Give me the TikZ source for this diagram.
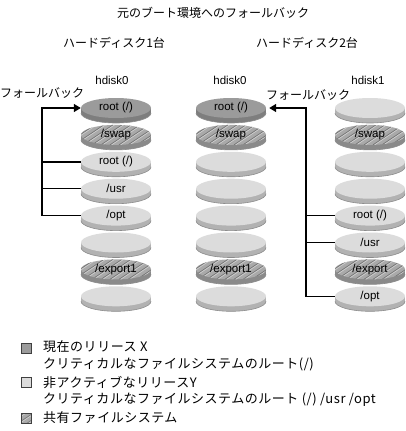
\documentclass[tikz,border=0pt]{standalone}
\usepackage{fontspec}
\setmainfont{Liberation Sans}
\newfontfamily\cjk{Noto Sans CJK JP}
\newfontfamily\cjkleg[LetterSpace=4]{Noto Sans CJK JP}
\usetikzlibrary{shapes.geometric,arrows.meta}
\definecolor{curface}{HTML}{9B9B9B}
\definecolor{curside}{HTML}{7E7E7E}
\definecolor{inaface}{HTML}{DCDCDC}
\definecolor{inaside}{HTML}{B2B2B2}
\definecolor{shrface}{HTML}{A9A9A9}
\definecolor{shrside}{HTML}{8A8A8A}
\definecolor{hatchdark}{HTML}{777777}
\definecolor{hatchlight}{HTML}{CFCFCF}
\definecolor{rim}{HTML}{8C8C8C}
\tikzset{
  hatching/.style={path picture={
    \foreach \i in {-90,-81,...,90} {
      \draw[hatchdark, line width=0.9pt] ([xshift=\i pt]path picture bounding box.center) ++(-15pt,-10pt) -- ++(30pt,20pt);
      \draw[hatchlight, line width=0.7pt] ([xshift=\i pt+1.6pt]path picture bounding box.center) ++(-15pt,-10pt) -- ++(30pt,20pt);
    }}},
  diskbase/.style={ellipse, minimum width=70pt, minimum height=20pt, inner sep=0pt,
    font=\fontsize{11.5}{13}\selectfont},
  curdisk/.style={diskbase, fill=curface},
  inadisk/.style={diskbase, fill=inaface},
  shrdisk/.style={diskbase, fill=shrface, hatching},
  jp/.style={font=\cjk\fontsize{12}{14}\selectfont, inner sep=0pt},
  jpleg/.style={font=\cjkleg\fontsize{13}{15}\selectfont, inner sep=0pt, anchor=west},
  lat/.style={font=\fontsize{11.5}{13}\selectfont, inner sep=0pt},
  conn/.style={line width=1.4pt, black},
  connarrow/.style={conn, -{Triangle[length=7pt,width=8pt]}},
  legbox/.style={draw=black!75, line width=0.6pt, minimum size=10pt, inner sep=0pt},
}
% name, x, y, kind (cur/ina/shr), label
\newcommand\dsk[5]{%
  \fill[#4side] (#2-35,#3) rectangle (#2+35,#3+5);
  \fill[#4side] (#2,#3+5) ellipse[x radius=35pt, y radius=10pt];
  \draw[rim, line width=0.6pt] (#2-35,#3+5) arc[start angle=180, end angle=360, x radius=35pt, y radius=10pt];
  \node[#4disk] (#1) at (#2,#3) {#5};
}
\begin{document}
\begin{tikzpicture}[x=1pt,y=-1pt]
\useasboundingbox[fill=white] (0,0) rectangle (406,431);

\node[jp] (title) at (213,13) {元のブート環境へのフォールバック};
\node[jp] (h1) at (114,43) {ハードディスク1台};
\node[jp] (h2) at (307,43) {ハードディスク2台};
\node[lat] (d0a) at (112,80) {hdisk0};
\node[lat] (d0b) at (230,80) {hdisk0};
\node[lat] (d1) at (368,80) {hdisk1};
\node[jp, anchor=west] (fbL) at (0,93) {フォールバック};
\node[jp, anchor=west] (fbR) at (266,95) {フォールバック};

% left column (one disk)
\dsk{L0}{116}{108}{cur}{root (/)}
\dsk{L1}{116}{134.9}{shr}{/swap}
\dsk{L2}{116}{161.8}{ina}{root (/)}
\dsk{L3}{116}{188.7}{ina}{/usr}
\dsk{L4}{116}{215.6}{ina}{/opt}
\dsk{L5}{116}{242.5}{ina}{}
\dsk{L6}{116}{269.4}{shr}{/export1}
\dsk{L7}{116}{296.3}{ina}{}

% middle column
\dsk{M0}{231}{108}{cur}{root (/)}
\dsk{M1}{231}{134.9}{shr}{/swap}
\dsk{M2}{231}{161.8}{ina}{}
\dsk{M3}{231}{188.7}{ina}{}
\dsk{M4}{231}{215.6}{ina}{}
\dsk{M5}{231}{242.5}{ina}{}
\dsk{M6}{231}{269.4}{shr}{/export1}
\dsk{M7}{231}{296.3}{ina}{}

% right column
\dsk{R0}{370}{108}{ina}{}
\dsk{R1}{370}{134.9}{shr}{/swap}
\dsk{R2}{370}{161.8}{ina}{}
\dsk{R3}{370}{188.7}{ina}{}
\dsk{R4}{370}{215.6}{ina}{root (/)}
\dsk{R5}{370}{242.5}{ina}{/usr}
\dsk{R6}{370}{269.4}{shr}{/export}
\dsk{R7}{370}{296.3}{ina}{/opt}

% connectors
\coordinate (busL) at (42,108);
\coordinate (busR) at (306,108);
\draw[connarrow] (L4.west) -| (busL) -- (L0.west);
\draw[conn] (L2.west) -- (L2.west -| busL);
\draw[conn] (L3.west) -- (L3.west -| busL);
\draw[connarrow] (R7.west) -| (busR) -- ([xshift=3pt]M0.east);
\draw[conn] (R4.west) -- (R4.west -| busR);
\draw[conn] (R5.west) -- (R5.west -| busR);

% legend
\node[legbox, fill=curface] (k1) at (26,348) {};
\node[legbox, fill=inaface] (k2) at (26,382) {};
\node[legbox, fill=shrface, hatching] (k3) at (26,418) {};
\node[jpleg] (t1) at (43,347) {現在のリリース X};
\node[jpleg] (t1b) at (43,364) {クリティカルなファイルシステムのルート(/)};
\node[jpleg] (t2) at (43,383) {非アクティブなリリースY};
\node[jpleg] (t2b) at (43,400) {クリティカルなファイルシステムのルート (/) /usr /opt};
\node[jpleg] (t3) at (43,418) {共有ファイルシステム};
\end{tikzpicture}
\end{document}
